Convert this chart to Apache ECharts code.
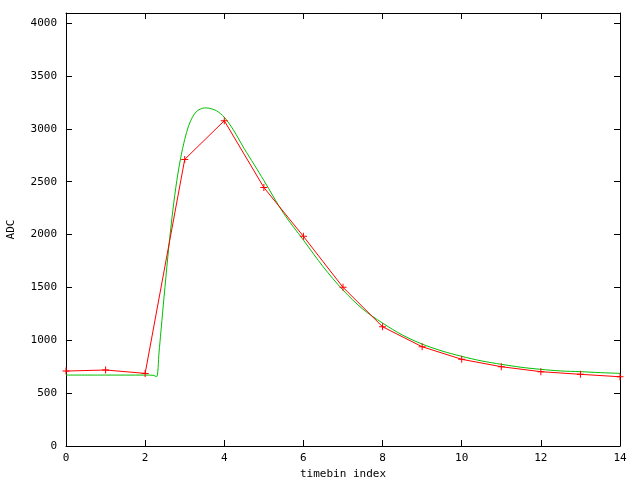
<!DOCTYPE html>
<html>
<head>
<meta charset="utf-8">
<script src="https://cdn.jsdelivr.net/npm/echarts@6/dist/echarts.min.js"></script>
<style>html,body{margin:0;padding:0;background:#fff}#c{width:640px;height:480px}</style>
</head>
<body>
<div id="c"></div>
<script>
var xTicks = [0, 2, 4, 6, 8, 10, 12, 14];
var yTicks = [0, 500, 1000, 1500, 2000, 2500, 3000, 3500, 4000];
var redX = [0, 1, 2, 3, 4, 5, 6, 7, 8, 9, 10, 11, 12, 13, 14];
var redY = [709, 719, 687, 2711, 3077, 2446, 1983, 1501, 1128, 939, 820, 750, 703, 678, 655];
var greenX = [0, 1, 2, 2.2, 2.29, 2.35, 2.4, 2.5, 2.6, 2.7, 2.8, 2.9, 3.0, 3.1, 3.2, 3.3, 3.4, 3.5, 3.62, 3.8, 4.0, 4.23, 4.5, 4.75, 5.0, 5.5, 6.0, 6.5, 7.0, 7.5, 8.0, 8.5, 9.0, 9.5, 10, 10.5, 11, 11.5, 12, 12.5, 13, 13.5, 14];
var greenY = [671, 671, 671, 669, 655, 880, 1090, 1500, 1890, 2230, 2510, 2730, 2900, 3030, 3115, 3165, 3188, 3198, 3195, 3172, 3110, 2990, 2815, 2665, 2512, 2200, 1948, 1695, 1475, 1295, 1163, 1050, 964, 899, 848, 805, 773, 745, 725, 710, 703, 694, 687];

function pairs(xs, ys) { return xs.map(function (x, i) { return [x, ys[i]]; }); }

var font = 'DejaVu Sans Mono';
var plus = 'path://M3,0h1v3h3v1h-3v3h-1v-3h-3v-1h3z';
var lineStyle = { color: '#000', width: 1 };
var tick = { show: true, inside: true, length: 6, lineStyle: lineStyle };

var chart = echarts.init(document.getElementById('c'), null, { renderer: 'canvas' });
chart.setOption({
  animation: false,
  backgroundColor: '#fff',
  grid: { left: 66, right: 20, top: 13, bottom: 34, containLabel: false, outerBoundsMode: 'none' },
  xAxis: [{
    type: 'value', min: xTicks[0], max: xTicks[xTicks.length - 1], interval: 2,
    name: 'timebin index', nameLocation: 'middle', nameGap: 23,
    nameTextStyle: { fontFamily: font, fontSize: 11, color: '#000' },
    axisLine: { show: true, onZero: false, lineStyle: lineStyle }, axisTick: tick, splitLine: { show: false },
    axisLabel: { fontFamily: font, fontSize: 11, color: '#000', margin: 7 }
  }, {
    type: 'value', position: 'top', min: xTicks[0], max: xTicks[xTicks.length - 1], interval: 2,
    axisLine: { show: true, onZero: false, lineStyle: lineStyle }, axisTick: tick, splitLine: { show: false },
    axisLabel: { show: false }
  }],
  yAxis: [{
    type: 'value', min: 0, max: 4096, interval: 500,
    name: 'ADC', nameLocation: 'middle', nameGap: 49, nameRotate: 90,
    nameTextStyle: { fontFamily: font, fontSize: 11, color: '#000' },
    axisLine: { show: true, onZero: false, lineStyle: lineStyle }, axisTick: tick, splitLine: { show: false },
    axisLabel: { fontFamily: font, fontSize: 11, color: '#000', margin: 9,
      formatter: function (v) { return yTicks.indexOf(v) >= 0 ? String(v) : ''; } }
  }, {
    type: 'value', position: 'right', min: 0, max: 4096, interval: 500,
    axisLine: { show: true, onZero: false, lineStyle: lineStyle }, axisTick: tick, splitLine: { show: false },
    axisLabel: { show: false }
  }],
  series: [{
    type: 'line', data: pairs(greenX, greenY), smooth: 0.3,
    showSymbol: false, symbol: 'none',
    lineStyle: { color: '#00c000', width: 1 }, z: 2
  }, {
    type: 'line', data: pairs(redX, redY), symbol: plus, symbolSize: 7,
    itemStyle: { color: '#ff0000' },
    lineStyle: { color: '#ff0000', width: 1 }, z: 3
  }]
});
</script>
</body>
</html>
